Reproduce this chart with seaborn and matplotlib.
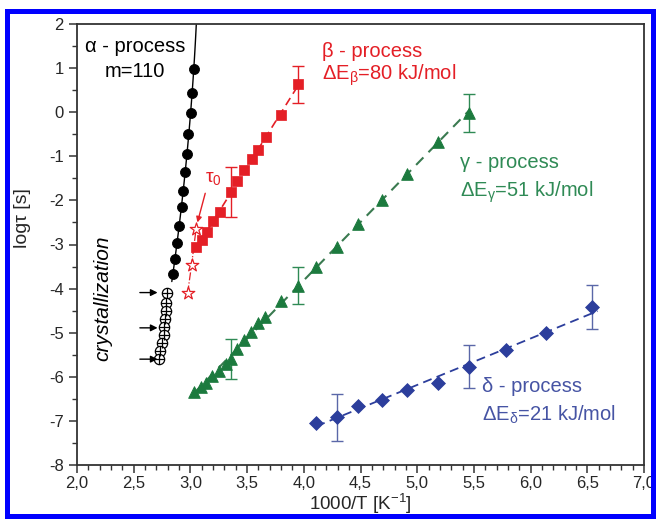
import numpy as np
import pandas as pd
import matplotlib
matplotlib.use('Agg')
import matplotlib.pyplot as plt
from matplotlib.patches import Rectangle
from matplotlib.ticker import MultipleLocator
import seaborn as sns

# alpha process (black dots) and crystallization points
alpha_x = [3.028, 3.018, 3.005, 2.982, 2.967, 2.952, 2.937, 2.923, 2.902, 2.884, 2.861, 2.844]
alpha_y = [0.97, 0.44, -0.01, -0.49, -0.95, -1.36, -1.78, -2.16, -2.58, -2.97, -3.33, -3.68]
alpha_fit_ylim = [-3.84, 2.0]

crys_x = [2.798, 2.789, 2.785, 2.776, 2.770, 2.763, 2.750, 2.736, 2.723]
crys_y = [-4.09, -4.32, -4.50, -4.68, -4.86, -5.05, -5.23, -5.41, -5.60]
crys_arrow_y = [-4.09, -4.89, -5.60]

# beta process
beta_x = [3.05, 3.10, 3.15, 3.20, 3.26, 3.36, 3.41, 3.47, 3.54, 3.60, 3.67, 3.80, 3.95]
beta_y = [-3.06, -2.90, -2.71, -2.47, -2.26, -1.81, -1.56, -1.32, -1.05, -0.85, -0.56, -0.06, 0.63]
beta_err_idx = [5, 12]
beta_err = [0.56, 0.42]

tau0_x = [2.975, 3.01, 3.05]
tau0_y = [-4.11, -3.47, -2.65]

# gamma process
gamma_x = [3.03, 3.09, 3.14, 3.19, 3.25, 3.31, 3.36, 3.41, 3.47, 3.53, 3.60, 3.66,
           3.80, 3.95, 4.11, 4.29, 4.48, 4.69, 4.91, 5.18, 5.46]
gamma_y = [-6.35, -6.24, -6.13, -5.99, -5.86, -5.70, -5.59, -5.36, -5.17, -4.98, -4.79, -4.64,
           -4.28, -3.93, -3.50, -3.06, -2.54, -2.00, -1.41, -0.68, -0.02]
gamma_err_idx = [6, 13, 20]
gamma_err = [0.45, 0.43, 0.43]

# delta process
delta_x = [4.11, 4.29, 4.48, 4.69, 4.91, 5.18, 5.46, 5.78, 6.14, 6.54]
delta_y = [-7.04, -6.92, -6.66, -6.53, -6.29, -6.15, -5.77, -5.40, -5.00, -4.42]
delta_err_idx = [1, 6, 9]
delta_err = [0.53, 0.49, 0.50]

xticks = [2.0, 2.5, 3.0, 3.5, 4.0, 4.5, 5.0, 5.5, 6.0, 6.5, 7.0]
xtick_labels = ['2,0', '2,5', '3,0', '3,5', '4,0', '4,5', '5,0', '5,5', '6,0', '6,5', '7,0']
yticks = [2, 1, 0, -1, -2, -3, -4, -5, -6, -7, -8]
ytick_labels = ['2', '1', '0', '-1', '-2', '-3', '-4', '-5', '-6', '-7', '-8']

RED = '#e41f26'
GREEN = '#1c7a3e'
GREEN_TXT = '#2f8a55'
BLUE = '#2c3e9c'
BLUE_TXT = '#4654a4'

sns.set_style('ticks')
plt.rcParams['font.family'] = ['Liberation Sans', 'DejaVu Sans']
plt.rcParams['mathtext.fontset'] = 'custom'
plt.rcParams['mathtext.rm'] = 'Liberation Sans'
plt.rcParams['mathtext.it'] = 'Liberation Sans:italic'
plt.rcParams['axes.unicode_minus'] = False

fig = plt.figure(figsize=(6.57, 5.19), dpi=100)
ax = fig.add_axes([77 / 657, 54 / 519, 567 / 657, 441 / 519])

# alpha: smooth fit line through the points
coef = np.polyfit(alpha_y, alpha_x, 2)
fy = np.linspace(alpha_fit_ylim[0], alpha_fit_ylim[1], 60)
sns.lineplot(x=np.polyval(coef, fy), y=fy, sort=False, color='black', lw=1.0, ax=ax, zorder=2)
sns.scatterplot(x=alpha_x, y=alpha_y, marker='o', s=52, color='black', edgecolor='black', ax=ax, zorder=3)

# crystallization
sns.scatterplot(x=crys_x, y=crys_y, marker='o', s=55, facecolor='white', edgecolor='black',
                linewidth=0.9, ax=ax, zorder=3)
sns.scatterplot(x=crys_x, y=crys_y, marker='+', s=55, color='black', linewidth=0.9, ax=ax, zorder=4)
for yy in crys_arrow_y:
    ax.annotate('', xy=(2.735, yy), xytext=(2.53, yy),
                arrowprops=dict(arrowstyle='-|>', color='black', lw=1.0, mutation_scale=10))

# beta
bfit = np.polyfit(beta_x, beta_y, 1)
bx = np.array([beta_x[0] - 0.02, beta_x[-1] + 0.02])
sns.lineplot(x=bx, y=np.polyval(bfit, bx), color=RED, lw=1.2, ax=ax, zorder=2).lines[-1].set_dashes((5, 3))
sns.lineplot(x=tau0_x, y=tau0_y, color=RED, lw=0.9, ax=ax, zorder=2).lines[-1].set_linestyle('-.')
sns.scatterplot(x=beta_x, y=beta_y, marker='s', s=42, color=RED, edgecolor=RED, ax=ax, zorder=3)
sns.scatterplot(x=tau0_x, y=tau0_y, marker='*', s=90, facecolor='white', edgecolor=RED,
                linewidth=0.9, ax=ax, zorder=3)
ax.errorbar([beta_x[i] for i in beta_err_idx], [beta_y[i] for i in beta_err_idx], yerr=beta_err,
            fmt='none', ecolor=RED, elinewidth=1.0, capsize=4, capthick=1.0, zorder=2)

# gamma
gfit = np.polyfit(gamma_x, gamma_y, 1)
gx = np.array([gamma_x[0], gamma_x[-1]])
sns.lineplot(x=gx, y=np.polyval(gfit, gx), color='#3a7a50', lw=1.5, ax=ax, zorder=2).lines[-1].set_dashes((5, 3.5))
sns.scatterplot(x=gamma_x, y=gamma_y, marker='^', s=70, color=GREEN, edgecolor=GREEN, ax=ax, zorder=3)
ax.errorbar([gamma_x[i] for i in gamma_err_idx], [gamma_y[i] for i in gamma_err_idx], yerr=gamma_err,
            fmt='none', ecolor=GREEN_TXT, elinewidth=1.0, capsize=4, capthick=1.0, zorder=2)

# delta
dfit = np.polyfit(delta_x, delta_y, 1)
dx = np.array([delta_x[0], delta_x[-1] + 0.05])
sns.lineplot(x=dx, y=np.polyval(dfit, dx), color=BLUE, lw=1.3, ax=ax, zorder=2).lines[-1].set_dashes((5, 3))
sns.scatterplot(x=delta_x, y=delta_y, marker='D', s=50, color=BLUE, edgecolor=BLUE, ax=ax, zorder=3)
ax.errorbar([delta_x[i] for i in delta_err_idx], [delta_y[i] for i in delta_err_idx], yerr=delta_err,
            fmt='none', ecolor='#5a67a8', elinewidth=1.0, capsize=4, capthick=1.0, zorder=2)

# labels
ax.text(2.51, 1.36, 'α - process', ha='center', va='baseline', fontsize=14.5, color='black')
ax.text(2.51, 0.79, 'm=110', ha='center', va='baseline', fontsize=14.5, color='black')
ax.text(4.16, 1.25, 'β - process', ha='left', va='baseline', fontsize=14.5, color=RED)
ax.text(4.16, 0.74, 'ΔE$_\\mathrm{\\beta}$=80 kJ/mol', ha='left', va='baseline', fontsize=14.5, color=RED)
ax.text(5.377, -1.27, 'γ - process', ha='left', va='baseline', fontsize=14.5, color=GREEN_TXT)
ax.text(5.377, -1.91, 'ΔE$_\\mathrm{\\gamma}$=51 kJ/mol', ha='left', va='baseline', fontsize=14.5, color=GREEN_TXT)
ax.text(5.569, -6.35, 'δ - process', ha='left', va='baseline', fontsize=14.5, color=BLUE_TXT)
ax.text(5.569, -6.99, 'ΔE$_\\mathrm{\\delta}$=21 kJ/mol', ha='left', va='baseline', fontsize=14.5, color=BLUE_TXT)
ax.text(2.23, -4.22, 'crystallization', rotation=90, ha='center', va='center', fontsize=15,
        style='italic', color='black')
ax.annotate('τ$_0$', xy=(3.062, -2.5), xytext=(3.13, -1.59), ha='left', va='baseline',
            fontsize=14, color=RED,
            arrowprops=dict(arrowstyle='-|>', color=RED, lw=1.0, mutation_scale=8,
                            shrinkA=2, shrinkB=0, relpos=(0.1, 0.0)))

ax.set_xlim(2.0, 7.0)
ax.set_ylim(-8, 2)
ax.set_xticks(xticks)
ax.set_xticklabels(xtick_labels)
ax.set_yticks(yticks)
ax.set_yticklabels(ytick_labels)
ax.xaxis.set_minor_locator(MultipleLocator(0.1))
ax.yaxis.set_minor_locator(MultipleLocator(0.5))
ax.tick_params(which='major', direction='out', length=6, width=1.1, labelsize=12, color='#333333')
ax.tick_params(which='minor', direction='out', length=3.5, width=1.0, color='#333333')
ax.tick_params(axis='x', which='major', pad=2)
ax.tick_params(top=False, right=False, which='both')
for sp in ax.spines.values():
    sp.set_visible(True)
    sp.set_color('#333333')
    sp.set_linewidth(1.3)

ax.set_xlabel('1000/T [K$^{-1}$]', fontsize=13.5)
ax.set_ylabel('logτ [s]', fontsize=14)
ax.xaxis.set_label_coords(0.5, -0.088)
ax.xaxis.label.set_va('center')
ax.yaxis.set_label_coords(-0.082, 0.56)

# blue frame around the figure
fig.patches.append(Rectangle((7 / 657, 3.0 / 519), 646 / 657, 505 / 519, transform=fig.transFigure,
                             fill=False, edgecolor='#0000ff', linewidth=3.6, zorder=10))

fig.savefig('out.png', dpi=100)
